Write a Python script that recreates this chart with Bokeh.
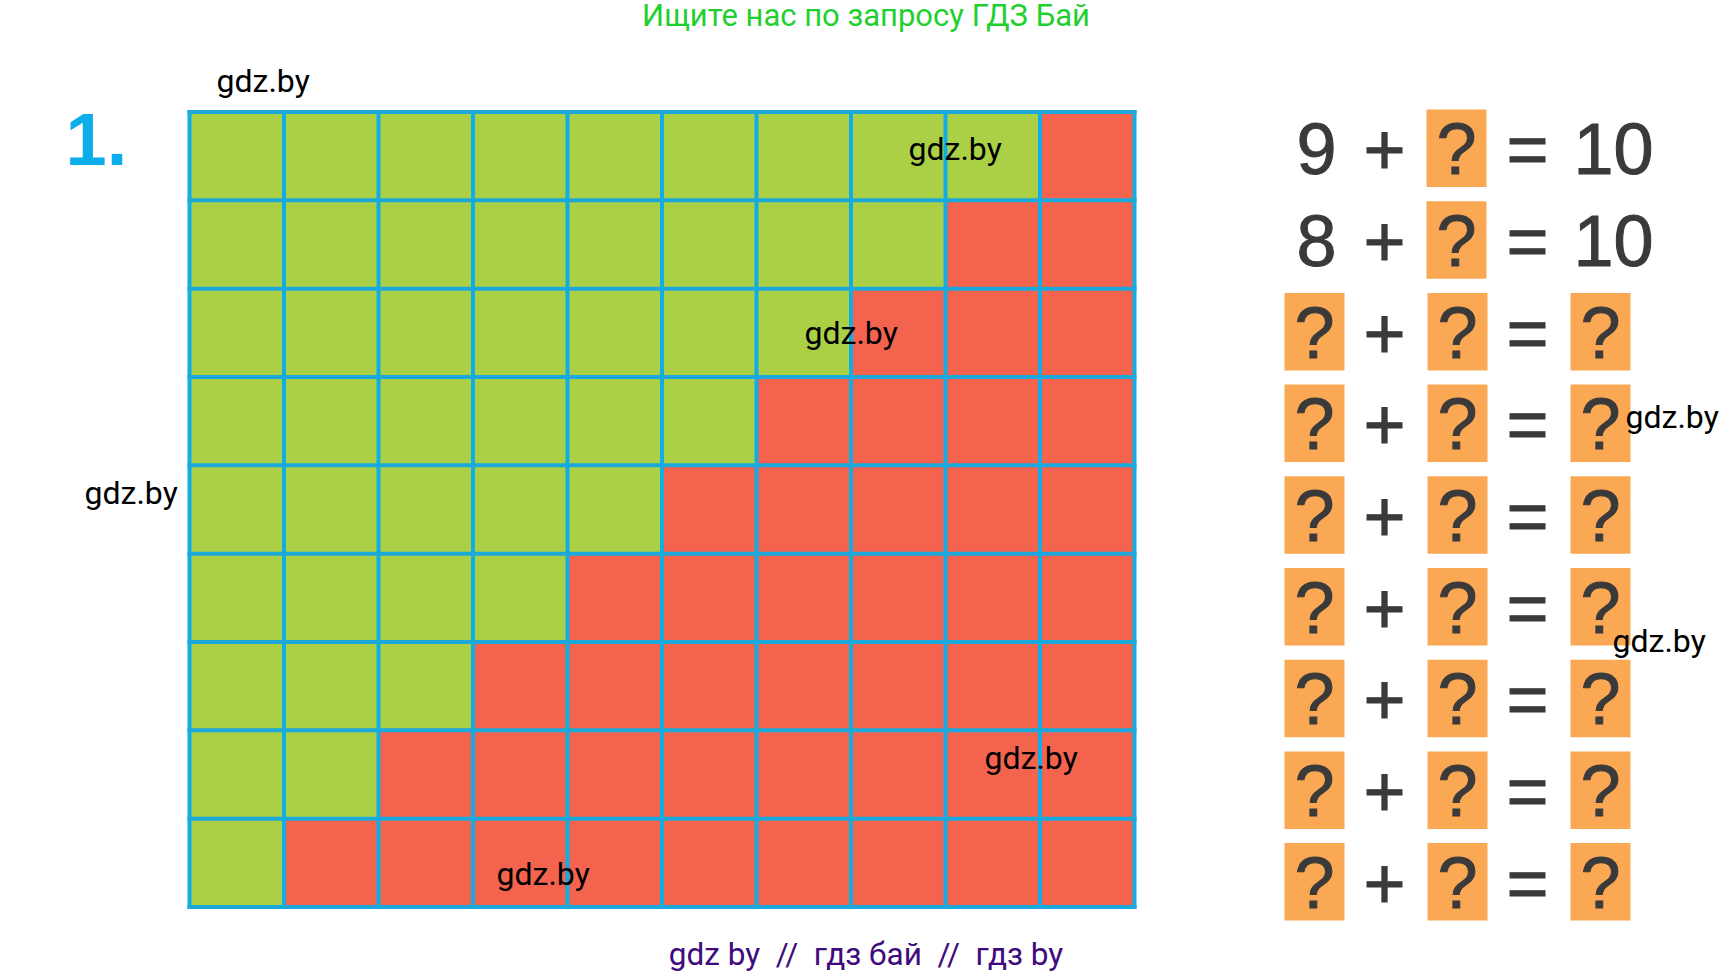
from bokeh.core.properties import value
from bokeh.embed import file_html
from bokeh.models import Range1d
from bokeh.plotting import figure
from bokeh.resources import INLINE

# green cells per row, top to bottom (rest of the row is red)
green_counts = [9, 8, 7, 6, 5, 4, 3, 2, 1]
n_cols = 10

eq_left = ["9", "8", "?", "?", "?", "?", "?", "?", "?"]
eq_mid = ["?", "?", "?", "?", "?", "?", "?", "?", "?"]
eq_right = ["10", "10", "?", "?", "?", "?", "?", "?", "?"]

watermark_text = "gdz.by"
watermark_x = [216, 908, 804, 1625, 84, 1612, 984, 496]
watermark_y = [93, 161, 345, 429, 505, 653, 770, 886]

GREEN = "#abd046"
RED = "#f4634e"
BLUE = "#10ade6"
ORANGE = "#faa854"
DARK = "#3a3a3a"
SANS = value("Liberation Sans")
ROBOTO = value("Roboto")
# cap middle sits about this far above the baseline, per px of font size
NUDGE = 0.38

# page layout in pixels
left, right, top, bottom = 189, 1134, 111.5, 906.5
cell_w = (right - left) / n_cols
cell_h = (bottom - top) / len(green_counts)

p = figure(width=1734, height=975, output_backend="svg", toolbar_location=None,
           x_range=Range1d(0, 1734), y_range=Range1d(975, 0), min_border=0)
p.axis.visible = False
p.grid.visible = False
p.outline_line_color = None

# grid cells
xs0, xs1, ys0, ys1, colors = [], [], [], [], []
for r, g in enumerate(green_counts):
    for c in range(n_cols):
        xs0.append(left + c * cell_w)
        xs1.append(left + (c + 1) * cell_w)
        ys0.append(top + r * cell_h)
        ys1.append(top + (r + 1) * cell_h)
        colors.append(GREEN if c < g else RED)
p.quad(left=xs0, right=xs1, top=ys0, bottom=ys1, fill_color=colors, line_color=None)

vx = [left + c * cell_w for c in range(n_cols + 1)]
hy = [top + r * cell_h for r in range(len(green_counts) + 1)]
p.segment(x0=vx, x1=vx, y0=[top - 2] * len(vx), y1=[bottom + 2] * len(vx), line_color=BLUE, line_width=4)
p.segment(x0=[left - 2] * len(hy), x1=[right + 2] * len(hy), y0=hy, y1=hy, line_color="#1ba9dc", line_width=4)


def label(x, y, text, size, color, **kw):
    p.text(x=x, y=[v - NUDGE * size for v in y], text=text, text_font_size=f"{size}px",
           text_color=color, text_baseline="middle", **kw)


# equations
box_w, box_h, row_top, row_step = 60, 77.5, 109, 91.7
col_left, col_plus, col_mid, col_eq, col_right = 1316, 1384, 1457, 1527, 1600
col_ten = 1613
base = 67

for i in range(len(eq_left)):
    y0 = row_top + i * row_step
    ybase = y0 + base
    bx, by0, by1 = [], [], []
    mid_x = col_mid - 1 if eq_left[i] != "?" else col_mid
    left_x = col_left - 2 if eq_left[i] == "?" else col_left
    for val, cx in ((eq_left[i], left_x), (eq_mid[i], mid_x), (eq_right[i], col_right)):
        if val == "?":
            bx.append(cx)
            by0.append(y0)
            by1.append(y0 + box_h)
    p.quad(left=[x - box_w / 2 for x in bx], right=[x + box_w / 2 for x in bx],
           top=by0, bottom=by1, fill_color=ORANGE, line_color=None)
    right_x = col_right if eq_right[i] == "?" else col_ten
    label([left_x, col_plus, mid_x, col_eq, right_x], [ybase] * 5,
          [eq_left[i], "+", eq_mid[i], "=", eq_right[i]], 72, DARK,
          text_font=SANS, text_align="center", text_outline_color=DARK)

# heading number
label([65], [167], ["1."], 74, "#0cadeb", text_font=SANS, text_font_style="bold")

# site labels
label([865.5], [27], ["Ищите нас по запросу ГДЗ Бай"], 31, "#1fd02f", text_font=ROBOTO, text_align="center")
label([865.5], [966], ["gdz by \u00a0//\u00a0 гдз бай \u00a0//\u00a0 гдз by"], 31.5, "#3f0a7e",
      text_font=ROBOTO, text_align="center")
label(watermark_x, watermark_y, [watermark_text] * len(watermark_x), 32, "#000000", text_font=ROBOTO)

open("out.html", "w").write(file_html(p, INLINE))
